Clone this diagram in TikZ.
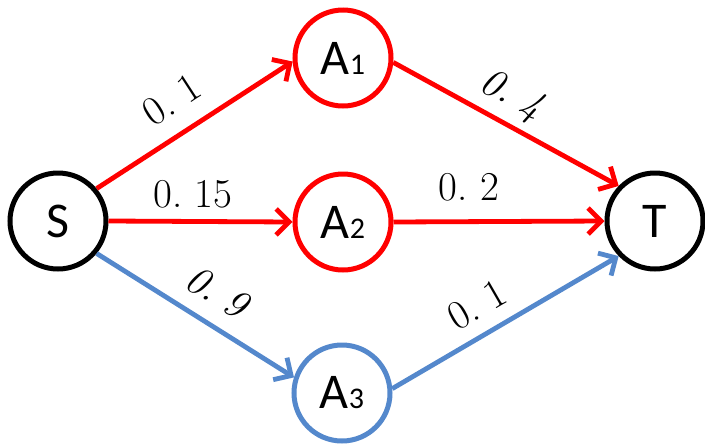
\documentclass[tikz,border=0pt]{standalone}
\usepackage{fontspec}
\setmainfont{Latin Modern Roman}
\newfontfamily\nodefont{Carlito}
\usetikzlibrary{arrows.meta}
\definecolor{myred}{RGB}{255,0,0}
\definecolor{myblue}{RGB}{84,136,204}
\tikzset{
  vtx/.style={circle, draw=#1, line width=5pt, minimum size=96pt, inner sep=0pt, fill=white,
    font=\nodefont\fontsize{50}{56}\selectfont},
  edge/.style={draw=#1, line width=4.8pt, -{Straight Barb[length=13pt,width=26pt,line width=4.8pt]}},
  wlabel/.style={font=\fontsize{41}{45}\selectfont, inner sep=0pt},
}
\newcommand{\subn}[1]{{\fontsize{30}{32}\selectfont #1}}
\begin{document}
\begin{tikzpicture}[x=1pt,y=-1pt]
\useasboundingbox (0,0) rectangle (705,445);
\node[vtx=black] (S) at (58,221) {S};
\node[vtx=myred] (A1) at (343,58) {A\subn{1}};
\node[vtx=myred] (A2) at (343,222) {A\subn{2}};
\node[vtx=myblue] (A3) at (342,393) {A\subn{3}};
\node[vtx=black] (T) at (655,221) {T};
\draw[edge=myred] (S.40) -- (A1.184);
\draw[edge=myred] (S.east) -- (A2.west);
\draw[edge=myblue] (S.-40) -- (A3.162);
\draw[edge=myred] (A1.-5) -- (T.136);
\draw[edge=myred] (A2.east) -- (T.west);
\draw[edge=myblue] (A3.5) -- (T.-136);
\node[wlabel, rotate=33] (l1) at (172,100) {0.\hspace{0.3em}1};
\node[wlabel] (l2) at (193,194) {0.\hspace{0.3em}15};
\node[wlabel, rotate=-31] (l3) at (217,292) {\itshape 0.\hspace{0.3em}9};
\node[wlabel, rotate=-28] (l4) at (511,96) {\itshape 0.\hspace{0.3em}4};
\node[wlabel] (l5) at (469,187) {0.\hspace{0.3em}2};
\node[wlabel, rotate=30] (l6) at (477,305) {0.\hspace{0.3em}1};
\end{tikzpicture}
\end{document}
